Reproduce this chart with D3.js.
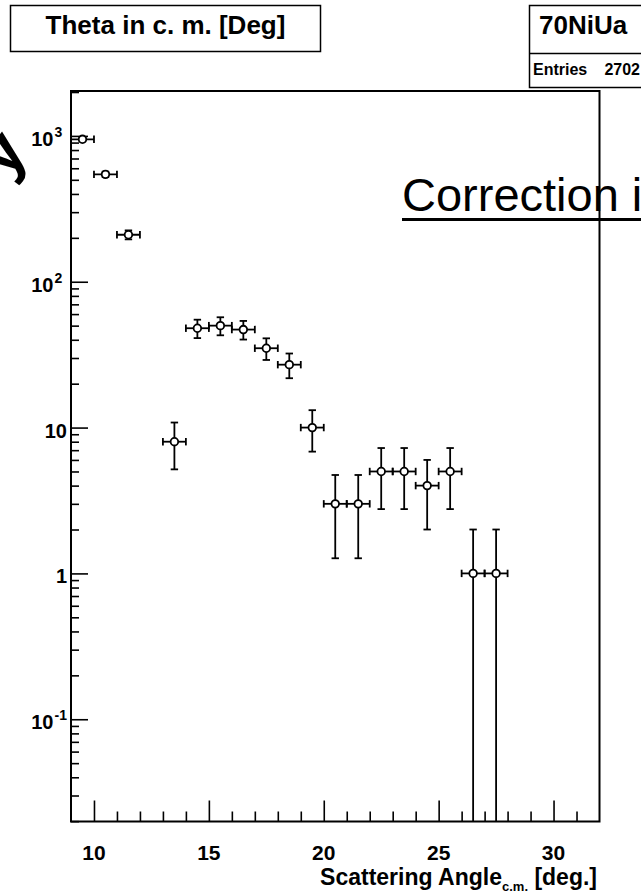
<!DOCTYPE html>
<html>
<head>
<meta charset="utf-8">
<script src="https://cdn.jsdelivr.net/npm/d3@7"></script>
<style>
  html, body { margin: 0; padding: 0; background: #fff; }
  svg { display: block; font-family: "Liberation Sans", Arial, Helvetica, sans-serif; }
</style>
</head>
<body>
<svg id="chart" width="641" height="894"></svg>
<script>
// bin centres (deg) and counts; bin 12.5 is empty (0)
const angles = [9.5, 10.5, 11.5, 13.5, 14.5, 15.5, 16.5, 17.5, 18.5, 19.5, 20.5, 21.5, 22.5, 23.5, 24.5, 25.5, 26.5, 27.5];
const counts = [948, 545, 210, 8, 48, 50, 47, 35, 27, 10, 3, 3, 5, 5, 4, 5, 1, 1];
const errors = [30.8, 23.3, 14.5, 2.83, 6.93, 7.07, 6.86, 5.92, 5.2, 3.16, 1.73, 1.73, 2.24, 2.24, 2, 2.24, 1, 1];
const binWidth = 1;

const xMajorTicks = [10, 15, 20, 25, 30];
const xTickLabels = ["10", "15", "20", "25", "30"];
const yMajorTicks = [0.1, 1, 10, 100, 1000];
const yTickBase = ["10", "1", "10", "10", "10"];
const yTickExp = ["-1", "", "", "2", "3"];

const histTitle = "Theta in c. m. [Deg]";
const histName = "70NiUa";
const entries = 2702;

const svg = d3.select("#chart");
const frame = { left: 71, right: 599.5, top: 91, bottom: 821.5 };

const x = d3.scaleLinear().domain([9, 32]).range([frame.left, frame.right]);
const y = d3.scaleLog().domain([0.0199, 2032]).range([frame.bottom, frame.top]);
const yMin = y.domain()[0];

// stray glyph from neighbouring overlay text at the left edge
svg.append("text")
  .attr("transform", "translate(7,180) rotate(-52)")
  .style("font-size", "64px")
  .style("font-weight", "bold")
  .text("y");

// ---- title box
svg.append("rect")
  .attr("x", 10.5).attr("y", 5.5).attr("width", 310).attr("height", 46)
  .attr("fill", "#fff").attr("stroke", "#000").attr("stroke-width", 1.5);
svg.append("text")
  .attr("x", 165.5).attr("y", 34)
  .attr("text-anchor", "middle")
  .style("font-size", "26px").style("font-weight", "bold")
  .text(histTitle);

// ---- stats box (runs off the right edge)
svg.append("rect")
  .attr("x", 529.5).attr("y", 5.5).attr("width", 200).attr("height", 82)
  .attr("fill", "#fff").attr("stroke", "#000").attr("stroke-width", 1.5);
svg.append("line")
  .attr("x1", 529.5).attr("x2", 641).attr("y1", 53.5).attr("y2", 53.5)
  .attr("stroke", "#000").attr("stroke-width", 1.5);
svg.append("text")
  .attr("x", 539).attr("y", 34)
  .style("font-size", "26px").style("font-weight", "bold")
  .text(histName);
svg.append("text")
  .attr("x", 533).attr("y", 75)
  .style("font-size", "16px").style("font-weight", "bold")
  .text("Entries");
svg.append("text")
  .attr("x", 640).attr("y", 75)
  .attr("text-anchor", "end")
  .style("font-size", "16px").style("font-weight", "bold")
  .text(entries);

// ---- axes (ticks point into the frame)
const yMinor = y.ticks().filter((v) => !yMajorTicks.includes(v) && v > yMin && v < y.domain()[1]);
const xMinor = d3.range(10, 32).filter((v) => !xMajorTicks.includes(v));

function styleAxis(g) {
  g.select(".domain").remove();
  g.selectAll(".tick line").attr("stroke", "#000").attr("stroke-width", 1.6);
}

svg.append("g")
  .attr("transform", `translate(0,${frame.bottom})`)
  .call(d3.axisBottom(x).tickValues(xMinor).tickSize(-10).tickFormat(""))
  .call(styleAxis);
svg.append("g")
  .attr("transform", `translate(0,${frame.bottom})`)
  .call(d3.axisBottom(x).tickValues(xMajorTicks).tickSize(-21).tickFormat(""))
  .call(styleAxis);
svg.append("g")
  .attr("transform", `translate(${frame.left},0)`)
  .call(d3.axisLeft(y).tickValues(yMinor).tickSize(-8).tickFormat(""))
  .call(styleAxis);
svg.append("g")
  .attr("transform", `translate(${frame.left},0)`)
  .call(d3.axisLeft(y).tickValues(yMajorTicks).tickSize(-17).tickFormat(""))
  .call(styleAxis);

// x tick labels
svg.append("g")
  .selectAll("text")
  .data(xMajorTicks)
  .enter()
  .append("text")
  .attr("x", (d) => x(d))
  .attr("y", 860)
  .attr("text-anchor", "middle")
  .style("font-size", "21px").style("font-weight", "bold")
  .text((d, i) => xTickLabels[i]);

// y tick labels, 10^n written with a superscript
yMajorTicks.forEach((v, i) => {
  const base = svg.append("text")
    .attr("y", y(v) + 10)
    .style("font-size", "20px").style("font-weight", "bold");
  if (yTickExp[i] === "") {
    base.attr("x", 67).attr("text-anchor", "end").text(yTickBase[i]);
  } else {
    base.attr("x", 53.5).attr("text-anchor", "end").text(yTickBase[i]);
    svg.append("text")
      .attr("x", 54.5).attr("y", y(v) + 1)
      .style("font-size", "14px").style("font-weight", "bold")
      .text(yTickExp[i]);
  }
});

// x axis title, right aligned at the end of the axis
const xTitle = svg.append("text")
  .attr("x", 597).attr("y", 885)
  .attr("text-anchor", "end")
  .style("font-size", "23px").style("font-weight", "bold");
xTitle.append("tspan").text("Scattering Angle");
xTitle.append("tspan").attr("dy", 6).style("font-size", "13px").text("c.m.");
xTitle.append("tspan").attr("dy", -6).text(" [deg.]");

// ---- data with error bars
svg.append("clipPath").attr("id", "plotClip")
  .append("rect")
  .attr("x", frame.left).attr("y", frame.top)
  .attr("width", frame.right - frame.left).attr("height", frame.bottom - frame.top);

const points = angles.map((a, i) => ({ a, c: counts[i], e: errors[i] }));
const plot = svg.append("g").attr("clip-path", "url(#plotClip)");
const cap = 3.7;

const bars = plot.selectAll(".pt")
  .data(points)
  .enter()
  .append("g")
  .attr("class", "pt")
  .attr("stroke", "#000")
  .attr("stroke-width", 1.8);

bars.append("line")
  .attr("x1", (d) => x(d.a)).attr("x2", (d) => x(d.a))
  .attr("y1", (d) => y(d.c + d.e))
  .attr("y2", (d) => y(Math.max(d.c - d.e, yMin)));
bars.append("line")
  .attr("x1", (d) => x(d.a - binWidth / 2)).attr("x2", (d) => x(d.a + binWidth / 2))
  .attr("y1", (d) => y(d.c)).attr("y2", (d) => y(d.c));
// caps
bars.append("line")
  .attr("x1", (d) => x(d.a) - cap).attr("x2", (d) => x(d.a) + cap)
  .attr("y1", (d) => y(d.c + d.e)).attr("y2", (d) => y(d.c + d.e));
bars.filter((d) => d.c - d.e > yMin)
  .append("line")
  .attr("x1", (d) => x(d.a) - cap).attr("x2", (d) => x(d.a) + cap)
  .attr("y1", (d) => y(d.c - d.e)).attr("y2", (d) => y(d.c - d.e));
bars.append("line")
  .attr("x1", (d) => x(d.a - binWidth / 2)).attr("x2", (d) => x(d.a - binWidth / 2))
  .attr("y1", (d) => y(d.c) - cap).attr("y2", (d) => y(d.c) + cap);
bars.append("line")
  .attr("x1", (d) => x(d.a + binWidth / 2)).attr("x2", (d) => x(d.a + binWidth / 2))
  .attr("y1", (d) => y(d.c) - cap).attr("y2", (d) => y(d.c) + cap);
bars.append("circle")
  .attr("cx", (d) => x(d.a)).attr("cy", (d) => y(d.c))
  .attr("r", 3.8)
  .attr("fill", "#fff");

// frame
svg.append("rect")
  .attr("x", frame.left).attr("y", frame.top)
  .attr("width", frame.right - frame.left).attr("height", frame.bottom - frame.top)
  .attr("fill", "none").attr("stroke", "#000").attr("stroke-width", 2);

// overlay text from the slide
svg.append("text")
  .attr("x", 402).attr("y", 211)
  .style("font-size", "47px")
  .text("Correction i");
svg.append("rect")
  .attr("x", 402).attr("y", 218).attr("width", 250).attr("height", 3)
  .attr("fill", "#000");
</script>
</body>
</html>
